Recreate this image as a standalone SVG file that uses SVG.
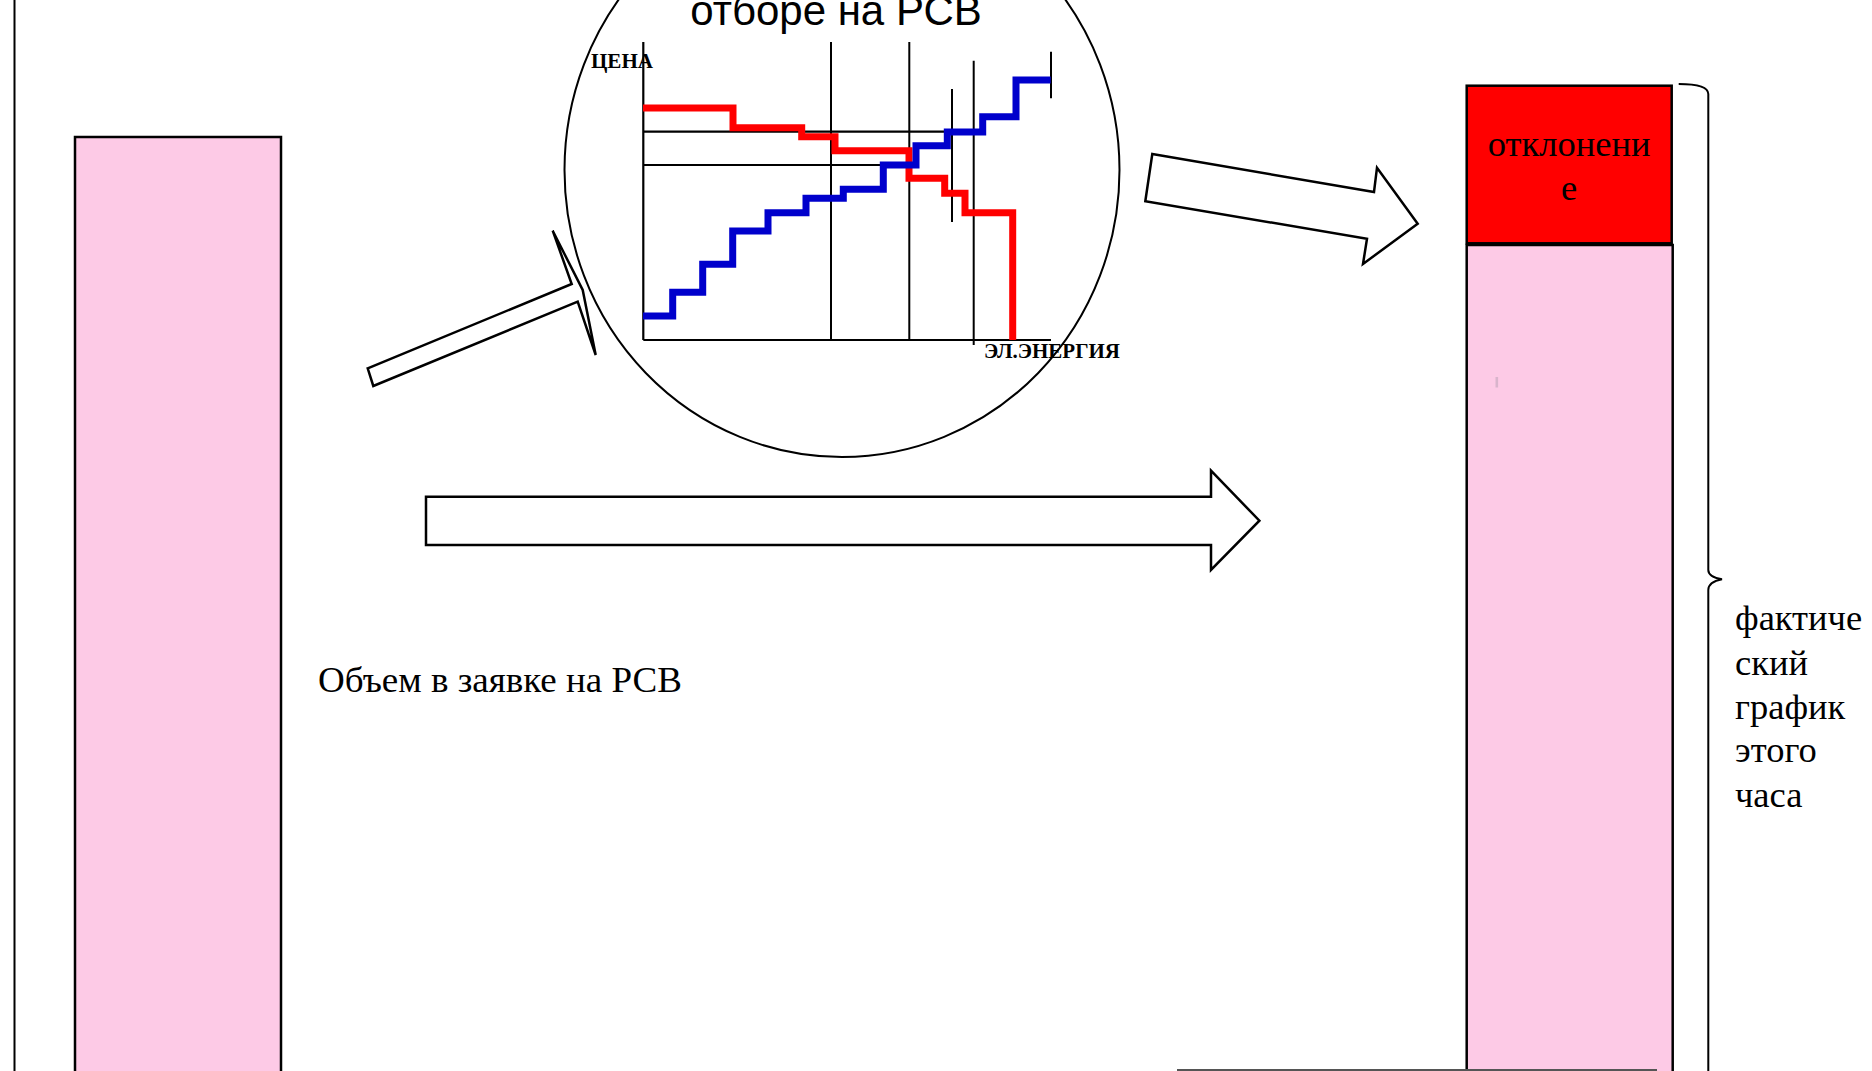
<svg xmlns="http://www.w3.org/2000/svg" width="1872" height="1071" viewBox="0 0 1872 1071">
  <defs>
    <style>
      .outline { stroke: #000; stroke-width: 2.5; }
      .pink { fill: #FDCAE6; }
      .arrow { fill: #fff; stroke: #000; stroke-width: 2.5; stroke-linejoin: miter; }
      .axis { stroke: #000; stroke-width: 2.2; fill: none; }
      .thin { stroke: #000; stroke-width: 2; fill: none; }
      .serif { font-family: "Liberation Serif", "Times New Roman", serif; fill: #000; }
      .sans { font-family: "Liberation Sans", Arial, sans-serif; fill: #000; }
      .lbl { font-size: 36.5px; }
      .axlbl { font-size: 20.5px; font-weight: bold; }
      .red { stroke: #FF0000; stroke-width: 7; fill: none; }
      .blue { stroke: #0000CC; stroke-width: 7; fill: none; }
    </style>
    <linearGradient id="fade" x1="0" y1="0" x2="1" y2="0">
      <stop offset="0" stop-color="#000"/>
      <stop offset="0.6" stop-color="#333"/>
      <stop offset="1" stop-color="#bbb"/>
    </linearGradient>
  </defs>

  <rect width="1872" height="1071" fill="#fff"/>

  <g id="left-line">
    <line x1="14.5" y1="0" x2="14.5" y2="1071" stroke="#000" stroke-width="2"/>
  </g>

  <g id="bid-volume-bar">
    <rect x="75" y="137" width="206" height="940" class="pink outline"/>
    <text x="318" y="692" class="serif lbl" textLength="364" lengthAdjust="spacingAndGlyphs">Объем в заявке на РСВ</text>
  </g>

  <g id="selection-circle">
    <ellipse cx="842" cy="170" rx="277.5" ry="287" fill="none" stroke="#000" stroke-width="2"/>
    <text x="836" y="25" class="sans" font-size="42" text-anchor="middle">отборе на РСВ</text>
    <text x="591" y="67.5" class="serif axlbl" textLength="62" lengthAdjust="spacingAndGlyphs">ЦЕНА</text>
    <text x="984" y="358" class="serif axlbl" textLength="136" lengthAdjust="spacingAndGlyphs">ЭЛ.ЭНЕРГИЯ</text>
    <!-- axes -->
    <line x1="643.3" y1="42" x2="643.3" y2="340" class="axis"/>
    <line x1="643.3" y1="340" x2="1051" y2="340" class="axis"/>
    <!-- grid lines -->
    <line x1="831" y1="42" x2="831" y2="340" class="thin"/>
    <line x1="909.3" y1="42" x2="909.3" y2="340" class="thin"/>
    <line x1="952" y1="89" x2="952" y2="222" class="thin"/>
    <line x1="973.7" y1="60.7" x2="973.7" y2="345" class="thin"/>
    <line x1="1051" y1="51.7" x2="1051" y2="98.3" class="thin"/>
    <line x1="643.3" y1="131.7" x2="948" y2="131.7" class="axis"/>
    <line x1="643.3" y1="165" x2="883" y2="165" class="thin"/>
    <!-- demand (red) -->
    <polyline class="red" points="643,108 733,108 733,127.7 801.7,127.7 801.7,136.7 835,136.7 835,150.7 909,150.7 909,178.3 944.7,178.3 944.7,193.3 965,193.3 965,212.7 1012.7,212.7 1012.7,340"/>
    <!-- supply (blue) -->
    <polyline class="blue" points="643,316 672.7,316 672.7,292.3 702.7,292.3 702.7,264.3 732.7,264.3 732.7,231 768,231 768,212.7 806,212.7 806,198.3 843.3,198.3 843.3,189.3 883.3,189.3 883.3,165 916,165 916,145.7 947.3,145.7 947.3,132 982.7,132 982.7,116.7 1016,116.7 1016,80 1050.7,80"/>
  </g>

  <g id="deviation-bar">
    <rect x="1466.7" y="85.7" width="205" height="157.6" fill="#FF0000" class="outline"/>
    <text x="1569.2" y="156" class="serif lbl" text-anchor="middle">отклонени</text>
    <text x="1569.2" y="200" class="serif lbl" text-anchor="middle">е</text>
  </g>

  <g id="actual-bar">
    <rect x="1466.7" y="245" width="206" height="840" class="pink outline"/>
    <rect x="1495.5" y="377" width="2.6" height="10.5" fill="#D9B4CC"/>
  </g>

  <g id="actual-brace">
    <path d="M1678.7,84 Q1708.3,84 1708.3,94 L1708.3,570 Q1708.3,577 1722,579.3 Q1708.3,582 1708.3,590 L1708.3,1071" fill="none" stroke="#000" stroke-width="2"/>
    <line x1="1720" y1="579.5" x2="1825" y2="579.5" stroke="url(#fade)" stroke-width="2"/>
    <text class="serif lbl" x="1735">
      <tspan x="1735" y="630">фактиче</tspan>
      <tspan x="1735" y="675">ский</tspan>
      <tspan x="1735" y="718.5">график</tspan>
      <tspan x="1735" y="762">этого</tspan>
      <tspan x="1735" y="806.5">часа</tspan>
    </text>
  </g>

  <g id="baseline">
    <line x1="1177" y1="1070" x2="1657" y2="1070" stroke="#555" stroke-width="2"/>
  </g>

  <g id="connectors">
    <polygon class="arrow" points="367.7,368.3 571.7,284 552.7,230.7 582.7,290 595.7,355 577.7,301.7 373.3,386"/>
    <polygon class="arrow" points="1152.3,154 1374,192 1377,167.7 1417.7,223.7 1363,264 1367,238.7 1145.3,201.3"/>
    <polygon class="arrow" points="426,496.7 1211,496.7 1211,470.7 1259.4,520.7 1211,570 1211,545 426,545"/>
  </g>
</svg>
